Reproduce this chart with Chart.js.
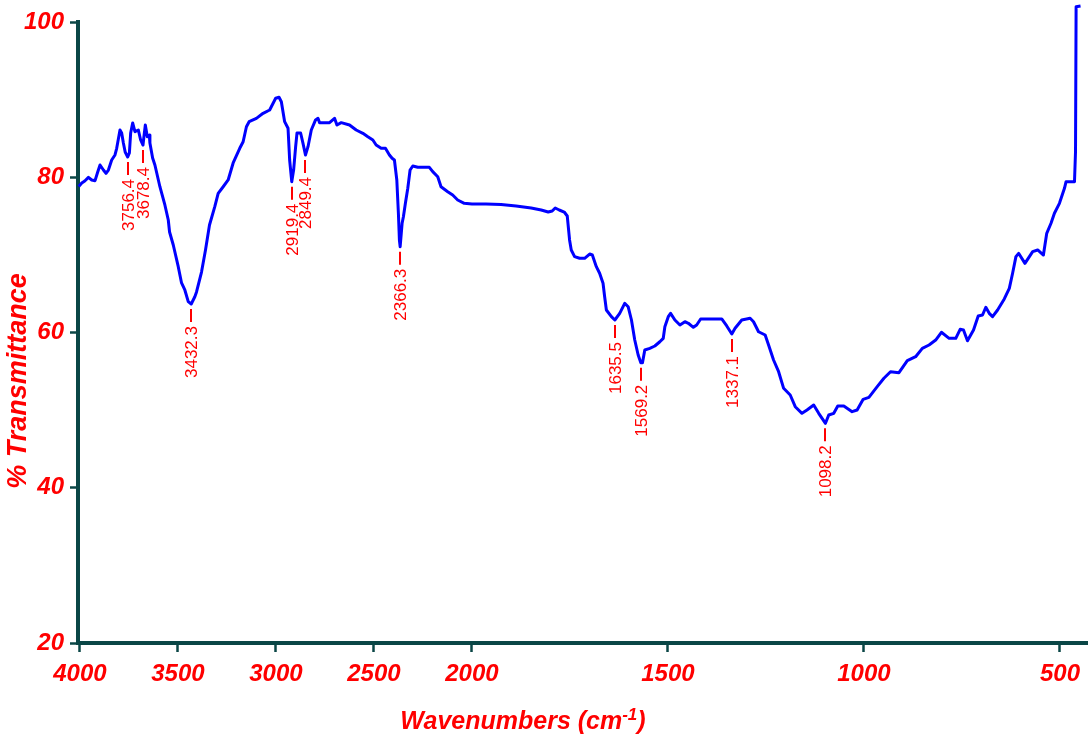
<!DOCTYPE html>
<html>
<head>
<meta charset="utf-8">
<title>FTIR spectrum</title>
<script src="https://cdn.jsdelivr.net/npm/chart.js@4/dist/chart.umd.min.js"></script>
<style>
  html, body { margin: 0; padding: 0; background: #ffffff; }
  #wrap { position: relative; width: 1089px; height: 734px; }
</style>
</head>
<body>
<div id="wrap"><canvas id="ftir"></canvas></div>
<script>
// Spectrum: wavenumber (cm-1) and % transmittance
const wavenumbers = [
  4006.1, 3990.8, 3975.5, 3956.7, 3939.9, 3923.1, 3909.4, 3897.6, 3880.3, 3867.1,
  3854.9, 3838.1, 3821.3, 3812.6, 3795.8, 3787.2, 3778.5, 3769.3, 3756.4, 3747.9,
  3741.3, 3731.1, 3719.4, 3702.1, 3690.4, 3678.4, 3672.6, 3666.5, 3656.3, 3646.1,
  3643.1, 3629.3, 3617.6, 3592.1, 3566.7, 3549.4, 3542.8, 3523.9, 3498.5, 3481.7,
  3464.9, 3447.5, 3432.3, 3413.9, 3405.3, 3379.8, 3359.5, 3339.1, 3312.1, 3294.8,
  3269.3, 3243.9, 3218.4, 3184.8, 3167.5, 3150.7, 3137.0, 3099.8, 3065.7, 3032.1,
  3001.5, 2984.2, 2972.5, 2955.7, 2938.4, 2930.2, 2919.4, 2909.9, 2899.7, 2892.6,
  2874.2, 2862.0, 2849.4, 2836.5, 2819.7, 2797.9, 2785.6, 2777.5, 2726.6, 2701.1,
  2688.9, 2667.0, 2624.7, 2590.6, 2556.5, 2531.1, 2505.6, 2488.8, 2463.3, 2441.4,
  2421.1, 2407.3, 2395.6, 2383.4, 2375.3, 2370.2, 2366.3, 2356.4, 2349.8, 2339.6,
  2327.4, 2315.7, 2301.9, 2276.5, 2217.4, 2200.1, 2174.6, 2157.8, 2123.7, 2098.3,
  2072.8, 2039.2, 2000.0, 1964.2, 1925.8, 1887.4, 1849.0, 1823.4, 1805.5, 1795.3,
  1787.6, 1777.4, 1764.6, 1756.9, 1751.0, 1746.7, 1738.2, 1725.4, 1712.6, 1699.8,
  1692.9, 1682.7, 1674.3, 1665.6, 1661.5, 1657.1, 1644.3, 1635.5, 1623.1, 1610.3,
  1601.6, 1593.1, 1584.7, 1576.0, 1569.2, 1565.0, 1559.1, 1546.3, 1533.5, 1520.7,
  1512.0, 1507.9, 1499.2, 1493.3, 1482.3, 1469.5, 1456.7, 1448.0, 1435.2, 1426.8,
  1416.6, 1362.8, 1350.0, 1337.1, 1328.8, 1311.7, 1290.4, 1281.7, 1268.9, 1252.0,
  1243.3, 1230.6, 1217.7, 1204.9, 1188.1, 1175.3, 1158.1, 1145.3, 1128.2, 1115.4,
  1098.2, 1089.8, 1077.0, 1066.8, 1051.4, 1030.2, 1017.4, 1002.0, 987.4, 966.2,
  949.1, 932.2, 910.7, 889.4, 868.2, 851.1, 833.9, 817.0, 802.4, 782.7,
  765.8, 754.6, 746.1, 735.9, 720.5, 708.5, 697.5, 689.1, 680.4, 671.9,
  659.1, 642.0, 629.2, 620.8, 612.3, 605.4, 589.3, 569.6, 556.8, 542.2,
  533.7, 522.8, 514.1, 501.3, 488.5, 484.4, 462.9, 460.3, 458.8, 447.5
];
const transmittance = [
  78.81, 79.26, 79.52, 79.99, 79.65, 79.56, 80.68, 81.58, 80.93, 80.51,
  80.93, 82.22, 82.87, 83.73, 86.09, 85.70, 84.41, 83.25, 82.61, 83.12,
  85.70, 86.99, 85.87, 86.09, 84.80, 84.15, 85.44, 86.73, 85.22, 85.44,
  84.41, 82.48, 81.58, 78.78, 76.43, 74.49, 72.95, 71.27, 68.48, 66.38,
  65.48, 63.97, 63.67, 64.61, 65.22, 67.79, 70.63, 73.85, 76.21, 77.93,
  78.78, 79.65, 81.84, 83.73, 84.58, 86.51, 87.16, 87.59, 88.24, 88.66,
  90.17, 90.30, 89.73, 87.16, 86.31, 82.22, 79.43, 80.93, 83.90, 85.70,
  85.70, 84.37, 82.87, 83.94, 86.09, 87.38, 87.59, 87.03, 87.03, 87.59,
  86.73, 87.03, 86.73, 86.09, 85.66, 85.22, 84.80, 84.15, 83.73, 83.73,
  82.87, 82.44, 82.22, 79.65, 75.36, 71.92, 71.05, 74.07, 74.92, 76.64,
  78.58, 80.93, 81.45, 81.28, 81.28, 80.72, 80.07, 78.78, 78.14, 77.71,
  77.07, 76.64, 76.55, 76.55, 76.49, 76.30, 76.04, 75.78, 75.52, 75.65,
  76.04, 75.78, 75.52, 75.01, 71.92, 70.63, 69.77, 69.56, 69.56, 70.11,
  69.98, 68.48, 67.63, 66.34, 64.61, 62.90, 62.04, 61.61, 62.47, 63.76,
  63.32, 61.61, 59.03, 57.10, 56.11, 56.11, 57.75, 57.96, 58.26, 58.81,
  59.25, 60.75, 62.04, 62.47, 61.61, 60.97, 61.39, 61.19, 60.67, 60.97,
  61.74, 61.74, 60.84, 59.81, 60.54, 61.61, 61.83, 61.39, 60.10, 59.68,
  58.39, 56.46, 54.95, 52.81, 51.95, 50.44, 49.59, 50.02, 50.66, 49.59,
  48.30, 49.37, 49.59, 50.53, 50.53, 49.80, 50.02, 51.39, 51.65, 53.02,
  54.10, 54.95, 54.82, 56.37, 56.88, 57.96, 58.39, 59.03, 60.03, 59.25,
  59.25, 60.41, 60.32, 58.94, 60.32, 62.13, 62.25, 63.25, 62.47, 62.04,
  62.90, 64.32, 65.69, 67.63, 69.77, 70.20, 68.91, 70.41, 70.63, 69.98,
  72.78, 74.07, 75.36, 76.64, 78.58, 79.43, 79.43, 83.29, 101.97, 102.06
];
// Labelled band positions (cm-1)
const peakLabels = [3756.4, 3678.4, 3432.3, 2919.4, 2849.4, 2366.3, 1635.5, 1569.2, 1337.1, 1098.2];
// Axis ticks
const xTicks = [4000, 3500, 3000, 2500, 2000, 1500, 1000, 500];
const yTicks = [20, 40, 60, 80, 100];

const AXIS = '#0a4646';
const RED = '#ff0000';
const SANS = "'Liberation Sans', Arial, sans-serif";

// Wavenumber axis with the usual 2x expansion below 2000 cm-1
const SCALE_BREAK = 2000;
class SplitLinearScale extends Chart.LinearScale {
  _stretch(v) { return v >= SCALE_BREAK ? v - SCALE_BREAK : 2 * (v - SCALE_BREAK); }
  getPixelForValue(value) {
    if (value === null || value === undefined || isNaN(value)) return NaN;
    const a = this._stretch(this.min), b = this._stretch(this.max);
    return this.getPixelForDecimal((this._stretch(value) - a) / (b - a));
  }
  getValueForPixel(pixel) {
    const a = this._stretch(this.min), b = this._stretch(this.max);
    const s = a + this.getDecimalForPixel(pixel) * (b - a);
    return s >= 0 ? s + SCALE_BREAK : s / 2 + SCALE_BREAK;
  }
}
SplitLinearScale.id = 'splitLinear';
SplitLinearScale.defaults = Chart.LinearScale.defaults;
Chart.register(SplitLinearScale);

// Band labels and axis titles
const spectrumText = {
  id: 'spectrumText',
  afterDatasetsDraw(chart) {
    const { ctx, scales: { x, y } } = chart;
    ctx.save();
    ctx.fillStyle = RED;
    ctx.strokeStyle = RED;
    ctx.lineWidth = 2;
    ctx.font = "17px " + SANS;
    peakLabels.forEach(wn => {
      const i = wavenumbers.indexOf(wn);
      const px = Math.round(x.getPixelForValue(wn));
      const py = y.getPixelForValue(transmittance[i]);
      ctx.beginPath();
      ctx.moveTo(px, py + 5);
      ctx.lineTo(px, py + 18);
      ctx.stroke();
      ctx.save();
      ctx.translate(px, py + 22);
      ctx.rotate(-Math.PI / 2);
      ctx.textAlign = 'right';
      ctx.textBaseline = 'middle';
      ctx.fillText(wn.toFixed(1), 0, 1);
      ctx.restore();
    });

    // y title
    ctx.save();
    ctx.translate(19, 381);
    ctx.rotate(-Math.PI / 2);
    ctx.font = "bold italic 27px " + SANS;
    ctx.textAlign = 'center';
    ctx.textBaseline = 'middle';
    ctx.fillText('% Transmittance', 0, 0);
    ctx.restore();

    // x title with superscript exponent
    const main = 'Wavenumbers (cm', sup = '-1', close = ')';
    const mainFont = "bold italic 25px " + SANS;
    const supFont = "bold italic 17px " + SANS;
    ctx.font = mainFont;
    const wMain = ctx.measureText(main).width, wClose = ctx.measureText(close).width;
    ctx.font = supFont;
    const wSup = ctx.measureText(sup).width;
    let tx = 523 - (wMain + wSup + wClose) / 2;
    const base = 729;
    ctx.textAlign = 'left';
    ctx.textBaseline = 'alphabetic';
    ctx.font = mainFont;
    ctx.fillText(main, tx, base);
    tx += wMain;
    ctx.font = supFont;
    ctx.fillText(sup, tx, base - 9);
    tx += wSup;
    ctx.font = mainFont;
    ctx.fillText(close, tx, base);
    ctx.restore();
  }
};

new Chart(document.getElementById('ftir'), {
  type: 'line',
  data: {
    datasets: [{
      data: wavenumbers.map((w, i) => ({ x: w, y: transmittance[i] })),
      borderColor: '#0000ff',
      borderWidth: 3,
      borderJoinStyle: 'round',
      pointRadius: 0,
      tension: 0,
      fill: false,
      clip: { left: 2, top: false, right: false, bottom: 0 }
    }]
  },
  options: {
    responsive: true,
    maintainAspectRatio: false,
    animation: false,
    devicePixelRatio: 1,
    layout: { padding: { left: 0, right: 2, top: 22, bottom: 0 } },
    plugins: { legend: { display: false }, tooltip: { enabled: false }, title: { display: false } },
    scales: {
      x: {
        type: 'splitLinear',
        min: 431,
        max: 4010,
        reverse: true,
        bounds: 'data',
        afterBuildTicks: s => { s.ticks = xTicks.map(v => ({ value: v })); },
        afterFit: s => { s.height = 91; },
        ticks: {
          callback: v => String(v),
          color: RED,
          font: { family: SANS, size: 24, style: 'italic', weight: 'bold' },
          padding: 8,
          autoSkip: false,
          maxRotation: 0
        },
        grid: { display: true, drawOnChartArea: false, drawTicks: true, tickLength: 9, tickWidth: 2.5, tickColor: AXIS },
        border: { display: true, color: AXIS, width: 4 }
      },
      y: {
        type: 'linear',
        min: 20,
        max: 100,
        bounds: 'data',
        afterBuildTicks: s => { s.ticks = yTicks.map(v => ({ value: v })); },
        afterFit: s => { s.width = 78; },
        ticks: {
          callback: v => String(v),
          color: RED,
          font: { family: SANS, size: 24, style: 'italic', weight: 'bold' },
          padding: 6
        },
        grid: { display: true, drawOnChartArea: false, drawTicks: true, tickLength: 8, tickWidth: 2.5, tickColor: AXIS },
        border: { display: true, color: AXIS, width: 4 }
      }
    }
  },
  plugins: [spectrumText]
});
</script>
</body>
</html>
